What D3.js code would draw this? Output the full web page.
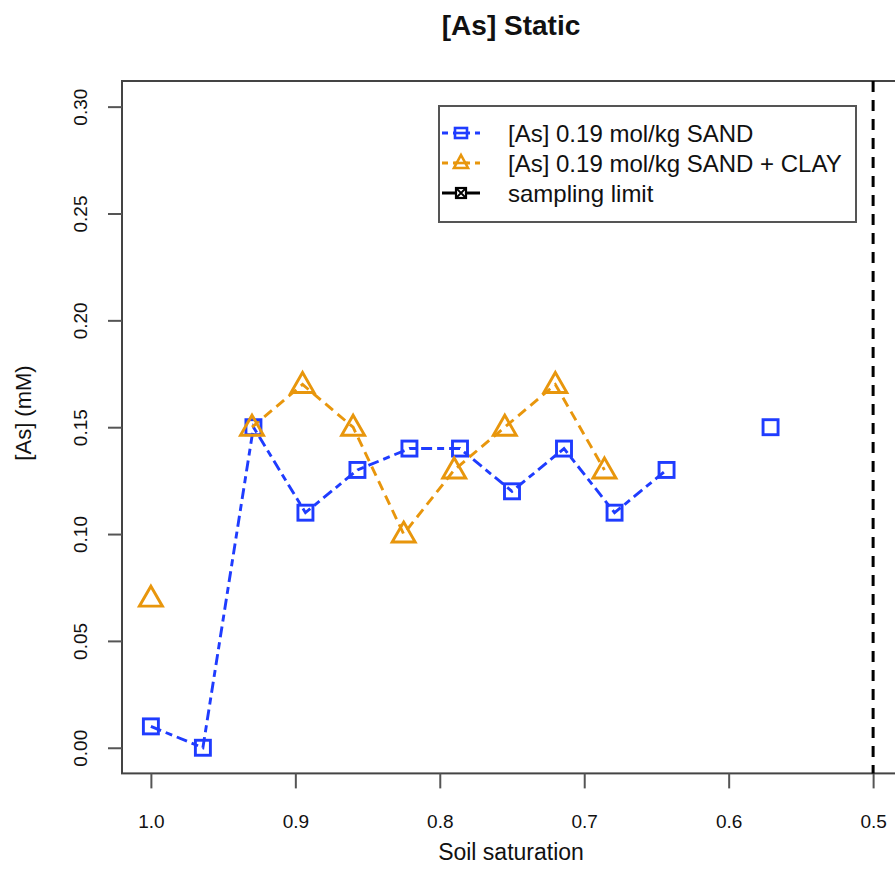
<!DOCTYPE html>
<html>
<head>
<meta charset="utf-8">
<script src="https://cdn.jsdelivr.net/npm/d3@7"></script>
<style>
  html, body { margin: 0; padding: 0; background: #fff; }
  svg { display: block; font-family: "Liberation Sans", Arial, sans-serif; }
</style>
</head>
<body>
<svg id="chart" width="895" height="876"></svg>
<script>
// ---- data ----
const sandX = [1.000, 0.964, 0.929, 0.893, 0.857, 0.821, 0.786, 0.750, 0.714, 0.679, 0.643, 0.607, 0.571];
const sandY = [0.01, 0.00, 0.15, 0.11, 0.13, 0.14, 0.14, 0.12, 0.14, 0.11, 0.13, null, 0.15];
const clayX = [1.000, 0.965, 0.930, 0.895, 0.860, 0.825, 0.790, 0.755, 0.720, 0.686];
const clayY = [0.07, null, 0.15, 0.17, 0.15, 0.10, 0.13, 0.15, 0.17, 0.13];
const samplingLimit = [0.5];
const xTicks = [1.0, 0.9, 0.8, 0.7, 0.6, 0.5];
const xTickLabels = ["1.0", "0.9", "0.8", "0.7", "0.6", "0.5"];
const yTicks = [0.00, 0.05, 0.10, 0.15, 0.20, 0.25, 0.30];
const yTickLabels = ["0.00", "0.05", "0.10", "0.15", "0.20", "0.25", "0.30"];
const legendLabels = ["[As] 0.19 mol/kg SAND", "[As] 0.19 mol/kg SAND + CLAY", "sampling limit"];
const titleText = "[As] Static";
const xLabel = "Soil saturation";
const yLabel = "[As] (mM)";

(function () {
// ---- layout ----
const BLUE = "#1f3cff", ORANGE = "#e8960c";
const pL = 122, pR = 902, pT = 81, pB = 773.4;
const svg = d3.select("#chart");

const x = d3.scaleLinear().domain([1.02, 0.48]).range([pL, pR]);
const y = d3.scaleLinear().domain([-0.012, 0.312]).range([pB, pT]);

const sand = sandX.map((v, i) => ({x: v, y: sandY[i]}));
const clay = clayX.map((v, i) => ({x: v, y: clayY[i]}));

// box
svg.append("rect").attr("x", pL).attr("y", pT)
  .attr("width", pR - pL).attr("height", pB - pT)
  .attr("fill", "none").attr("stroke", "#444").attr("stroke-width", 2);

// axes
const xAxis = d3.axisBottom(x).tickValues(xTicks)
  .tickFormat((d, i) => xTickLabels[i]).tickSize(15).tickPadding(0);
const gx = svg.append("g").attr("transform", `translate(0,${pB})`).call(xAxis);
gx.select(".domain").remove();
gx.selectAll(".tick line").attr("stroke", "#555").attr("stroke-width", 2);
gx.selectAll(".tick text").attr("font-size", 19).attr("fill", "#111")
  .attr("font-family", "Liberation Sans, Arial, sans-serif")
  .attr("y", 48).attr("dy", null).attr("dominant-baseline", "central");

const yAxis = d3.axisLeft(y).tickValues(yTicks)
  .tickFormat((d, i) => yTickLabels[i]).tickSize(14).tickPadding(0);
const gy = svg.append("g").attr("transform", `translate(${pL},0)`).call(yAxis);
gy.select(".domain").remove();
gy.selectAll(".tick line").attr("stroke", "#555").attr("stroke-width", 2);
gy.selectAll(".tick text")
  .attr("font-size", 19).attr("fill", "#111")
  .attr("font-family", "Liberation Sans, Arial, sans-serif")
  .attr("text-anchor", "middle")
  .attr("x", 0).attr("dy", null).attr("dominant-baseline", "central")
  .attr("transform", "translate(-42,0) rotate(-90)");

// sampling limit line
svg.selectAll(".vline").data(samplingLimit).enter().append("line")
  .attr("x1", d => x(d)).attr("x2", d => x(d))
  .attr("y1", pT).attr("y2", pB)
  .attr("stroke", "#000").attr("stroke-width", 3)
  .attr("stroke-dasharray", "11,8");

// series lines
const line = d3.line().defined(d => d.y != null).x(d => x(d.x)).y(d => y(d.y));
svg.append("path").datum(sand).attr("d", line)
  .attr("fill", "none").attr("stroke", BLUE).attr("stroke-width", 2.9)
  .attr("stroke-dasharray", "11,5,7,5");
svg.append("path").datum(clay).attr("d", line)
  .attr("fill", "none").attr("stroke", ORANGE).attr("stroke-width", 2.9)
  .attr("stroke-dasharray", "10,6");

// markers
svg.selectAll(".sq").data(sand.filter(d => d.y != null)).enter().append("rect")
  .attr("x", d => x(d.x) - 7.5).attr("y", d => y(d.y) - 7.5)
  .attr("width", 15).attr("height", 15)
  .attr("fill", "none").attr("stroke", BLUE).attr("stroke-width", 2.9);
const tri = (cx, cy, w, up, down) => `M${cx},${cy - up}L${cx + w / 2},${cy + down}L${cx - w / 2},${cy + down}Z`;
svg.selectAll(".tri").data(clay.filter(d => d.y != null)).enter().append("path")
  .attr("d", d => tri(x(d.x), y(d.y), 23, 12, 8))
  .attr("fill", "none").attr("stroke", ORANGE).attr("stroke-width", 2.9)
  .attr("stroke-linejoin", "miter");

// legend
const lg = svg.append("g");
lg.append("rect").attr("x", 439).attr("y", 106).attr("width", 417).attr("height", 116)
  .attr("fill", "#fff").attr("stroke", "#555").attr("stroke-width", 2);
const rowsY = [133, 163, 193];
const colors = [BLUE, ORANGE, "#000"];
legendLabels.forEach((t, i) => {
  const ry = rowsY[i];
  lg.append("line").attr("x1", 442).attr("x2", 480).attr("y1", ry).attr("y2", ry)
    .attr("stroke", colors[i]).attr("stroke-width", 2.8)
    .attr("stroke-dasharray", i < 2 ? "6,5" : null);
  if (i === 0) {
    lg.append("rect").attr("x", 455).attr("y", ry - 5).attr("width", 12).attr("height", 10)
      .attr("fill", "#fff").attr("stroke", BLUE).attr("stroke-width", 2.6);
    lg.append("line").attr("x1", 455).attr("x2", 467).attr("y1", ry).attr("y2", ry)
      .attr("stroke", BLUE).attr("stroke-width", 2.6);
  } else if (i === 1) {
    lg.append("path").attr("d", tri(461, ry, 14, 8, 5))
      .attr("fill", "#fff").attr("stroke", ORANGE).attr("stroke-width", 2.6);
    lg.append("line").attr("x1", 454).attr("x2", 468).attr("y1", ry).attr("y2", ry)
      .attr("stroke", ORANGE).attr("stroke-width", 2.6);
  } else {
    lg.append("rect").attr("x", 456).attr("y", ry - 5).attr("width", 10).attr("height", 10)
      .attr("fill", "#fff").attr("stroke", "#000").attr("stroke-width", 2.2);
    lg.append("path").attr("d", `M456,${ry - 5}L466,${ry + 5}M466,${ry - 5}L456,${ry + 5}`)
      .attr("stroke", "#000").attr("stroke-width", 1.8);
  }
  lg.append("text").attr("x", 508).attr("y", ry).attr("dominant-baseline", "central")
    .attr("font-size", 24).attr("fill", "#111").text(t);
});

// title and axis labels
svg.append("text").attr("x", 511).attr("y", 25).attr("text-anchor", "middle")
  .attr("dominant-baseline", "central").attr("font-size", 28).attr("font-weight", "bold")
  .attr("fill", "#111").text(titleText);
svg.append("text").attr("x", 511).attr("y", 852).attr("text-anchor", "middle")
  .attr("dominant-baseline", "central").attr("font-size", 23).attr("fill", "#111").text(xLabel);
svg.append("text").attr("transform", "translate(23,413) rotate(-90)").attr("text-anchor", "middle")
  .attr("dominant-baseline", "central").attr("font-size", 22).attr("fill", "#111").text(yLabel);
})();
</script>
</body>
</html>
